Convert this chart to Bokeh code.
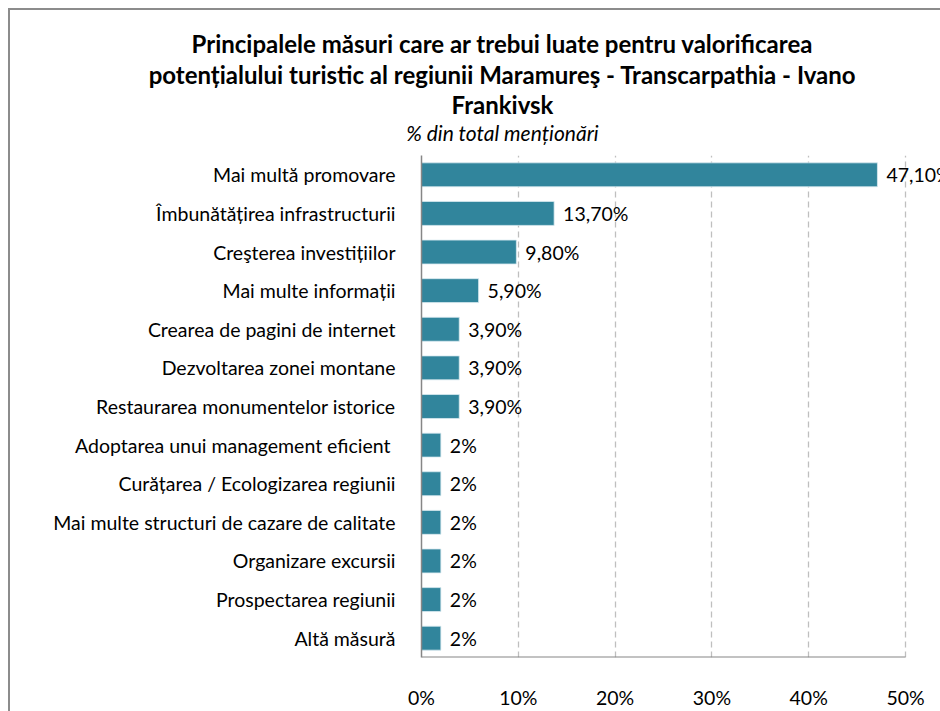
from bokeh.plotting import figure
from bokeh.models import (ColumnDataSource, FactorRange, Range1d, FixedTicker,
                          LabelSet, Label)
from bokeh.layouts import column
from bokeh.core.properties import value
from bokeh.embed import file_html
from bokeh.resources import INLINE

categories = [
    "Mai multă promovare",
    "Îmbunătățirea infrastructurii",
    "Creşterea investițiilor",
    "Mai multe informații",
    "Crearea de pagini de internet",
    "Dezvoltarea zonei montane",
    "Restaurarea monumentelor istorice",
    "Adoptarea unui  management eficient",
    "Curățarea / Ecologizarea regiunii",
    "Mai multe structuri de cazare de calitate",
    "Organizare excursii",
    "Prospectarea regiunii",
    "Altă măsură",
]
values = [47.1, 13.7, 9.8, 5.9, 3.9, 3.9, 3.9, 2, 2, 2, 2, 2, 2]
value_labels = ["47,10%", "13,70%", "9,80%", "5,90%", "3,90%", "3,90%", "3,90%",
                "2%", "2%", "2%", "2%", "2%", "2%"]
x_ticks = [0, 10, 20, 30, 40, 50]
tick_labels = {0: "0%", 10: "10%", 20: "20%", 30: "30%", 40: "40%", 50: "50%"}

title_lines = [
    "Principalele măsuri care ar trebui luate pentru valorificarea",
    "potențialului turistic al regiunii Maramureş - Transcarpathia - Ivano",
    "Frankivsk",
]
subtitle = "% din total menționări"

FONT = "Lato"
BAR = "#31859C"
FS = "19.5px"

W = 930
TH = 145          # title band height
MH = 556          # main chart height
left_b, bottom_b = 411, 54
px_per = (895 - left_b) / 50.0

# ---------- title band ----------
t = figure(width=W, height=TH, output_backend="svg", toolbar_location=None,
           x_range=Range1d(0, W), y_range=Range1d(TH, 0),
           x_axis_location=None, y_axis_location=None,
           min_border=0, outline_line_color=None)
t.frame_align = False
t.grid.visible = False
cx = 492
for line, yy in zip(title_lines, [33, 64, 94]):
    t.add_layout(Label(x=cx, y=yy, text=line,
                       text_align="center", text_baseline="middle",
                       text_font=FONT, text_font_style="bold",
                       text_font_size="24px", text_color="#000000"))
t.add_layout(Label(x=cx, y=122, text=subtitle,
                   text_align="center", text_baseline="middle",
                   text_font=FONT, text_font_style="italic",
                   text_font_size="21px", text_color="#000000"))

# ---------- main chart ----------
source = ColumnDataSource(dict(cat=categories, val=values, lab=value_labels))

p = figure(width=W, height=MH, output_backend="svg", toolbar_location=None,
           y_range=FactorRange(factors=list(reversed(categories))),
           x_range=Range1d(0, (W - left_b) / px_per),
           min_border_left=left_b, min_border_right=0,
           min_border_top=0, min_border_bottom=bottom_b,
           outline_line_color=None)
p.frame_align = False

p.hbar(y="cat", right="val", height=0.62, source=source,
       fill_color=BAR, line_color="#d9eaf0", line_width=0.8)

labels = LabelSet(x="val", y="cat", text="lab", source=source, x_offset=9,
                  text_baseline="middle", text_font=value(FONT),
                  text_font_size=value(FS), text_color="#000000")
p.add_layout(labels)

# axis line for 0..50%
p.segment(x0=[x_ticks[0]], x1=[x_ticks[-1]],
          y0=[(categories[-1], -0.5)], y1=[(categories[-1], -0.5)],
          line_color="#868686", line_width=2)

xa = p.xaxis[0]
xa.ticker = FixedTicker(ticks=x_ticks)
xa.major_label_overrides = tick_labels
xa.axis_line_color = None
xa.major_tick_line_color = None
xa.minor_tick_line_color = None
xa.major_label_standoff = 22
xa.major_label_text_font = FONT
xa.major_label_text_font_size = FS
xa.major_label_text_color = "#000000"

ya = p.yaxis[0]
ya.axis_line_color = "#868686"
ya.axis_line_width = 1.5
ya.major_tick_line_color = None
ya.minor_tick_line_color = None
ya.major_label_standoff = 20
ya.major_label_text_font = FONT
ya.major_label_text_font_size = FS
ya.major_label_text_color = "#000000"

p.xgrid.ticker = FixedTicker(ticks=x_ticks[1:])
p.xgrid.grid_line_color = "#BFBFBF"
p.xgrid.grid_line_dash = "6 4"
p.xgrid.grid_line_width = 1.3
p.ygrid.grid_line_color = None

layout = column(t, p, spacing=0)
layout.styles = {"margin-left": "8px", "margin-top": "8px",
                 "border-left": "2px solid #8c8c8c", "border-top": "2px solid #8c8c8c"}

open("out.html", "w").write(file_html(layout, INLINE))
